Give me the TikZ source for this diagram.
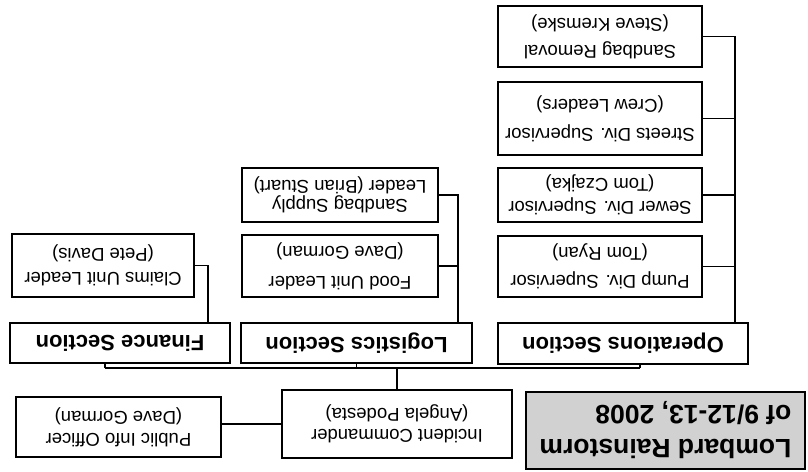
\documentclass[tikz,border=0pt]{standalone}
\usepackage{fontspec}
\setmainfont{Liberation Sans}
\begin{document}
\begin{tikzpicture}[x=1pt,y=-1pt,
  box/.style={draw=black, line width=1.6pt, inner sep=0pt, align=center, rotate=180,
    font=\fontsize{18.5}{21}\selectfont},
  sect/.style={box, font=\fontsize{22}{26}\selectfont\bfseries},
  wire/.style={draw=black, line width=1.3pt}]
\useasboundingbox (0,0) rectangle (808,471);
% title
\node[draw=black, line width=1.6pt, fill=black!18, rotate=180, minimum width=279pt, minimum height=77pt,
  inner sep=0pt, align=left, font=\fontsize{26.5}{34}\selectfont\bfseries]
  (title) at (665.5,430.5) {Lombard Rainstorm\\of 9/12-13, 2008};
% command
\node[box, minimum width=230pt, minimum height=68pt] (ic) at (397,424) {Incident Commander\\(Angela Podesta)};
\node[box, minimum width=205pt, minimum height=60pt] (pio) at (118.5,427) {Public Info Officer\\[1pt](Dave Gorman)};
% sections
\node[sect, minimum width=220pt, minimum height=40pt] (fin) at (120,343) {Finance Section};
\node[sect, minimum width=231pt, minimum height=40pt] (log) at (356.5,343) {Logistics Section};
\node[sect, minimum width=250pt, minimum height=41pt] (ops) at (623,343.5) {Operations Section};
% units
\node[box, minimum width=182pt, minimum height=63pt] (claims) at (103,265.5) {Claims Unit Leader\\[3pt](Pete Davis)};
\node[box, minimum width=196pt, minimum height=62pt] (food) at (340,266) {Food Unit Leader\\[9pt](Dave Gorman)};
\node[box, minimum width=196pt, minimum height=54pt] (supply) at (340,195) {Sandbag Supply\\[-2pt]Leader (Brian Stuart)};
\node[box, minimum width=204pt, minimum height=61pt] (pump) at (600,266.5) {Pump Div. Supervisor\\[7pt](Tom Ryan)};
\node[box, minimum width=204pt, minimum height=54pt] (sewer) at (600,195) {Sewer Div. Supervisor\\[2pt](Tom Czajka)};
\node[box, minimum width=204pt, minimum height=73pt] (streets) at (600,118.5) {Streets Div. Supervisor\\[8pt](Crew Leaders)};
\node[box, minimum width=204pt, minimum height=61pt] (removal) at (600,36.5) {Sandbag Removal\\[6pt](Steve Kremske)};
% bus
\coordinate (busL) at (105,368);
\coordinate (busR) at (640,368);
\coordinate (fv) at (208,0);
\coordinate (lv) at (458,0);
\coordinate (ov) at (735,0);
\draw[wire] (busL) -- (busR);
\draw[wire] (ic) -- (ic |- busL);
\draw[wire] (busL) -- (busL |- fin.north);
\draw[wire] (log) -- (log |- busL);
\draw[wire] (busR) -- (busR |- ops.north);
\draw[wire] (ic.east) -- (ic.east -| pio.west);
% finance
\draw[wire] (claims.west) -| (fv |- fin.south);
% logistics
\draw[wire] (supply.west) -| (lv |- log.south);
\draw[wire] (food.west) -- (food.west -| lv);
% operations
\draw[wire] (removal.west) -| (ov |- ops.south);
\draw[wire] (streets.west) -- (streets.west -| ov);
\draw[wire] (sewer.west) -- (sewer.west -| ov);
\draw[wire] (pump.west) -- (pump.west -| ov);
\end{tikzpicture}
\end{document}
